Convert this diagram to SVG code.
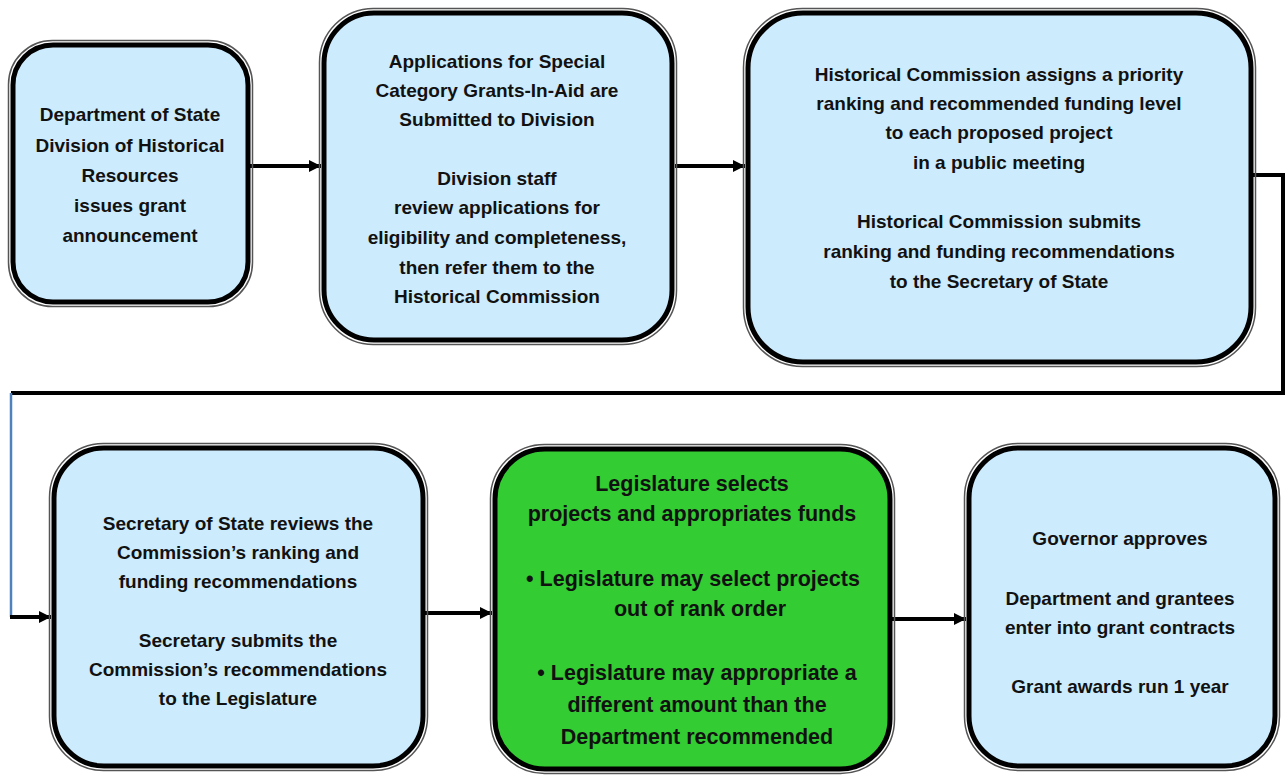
<svg xmlns="http://www.w3.org/2000/svg" width="1286" height="776" viewBox="0 0 1286 776">
<defs>
<style>
.box{fill:#CCEBFD;stroke:#000;stroke-width:5}
.green{fill:#33CC33;stroke:#000;stroke-width:5}
.halo{fill:none;stroke:#555;stroke-width:1.5}
.t{font-family:"Liberation Sans",Arial,sans-serif;font-weight:bold;font-size:19px;fill:#111;text-anchor:middle}
.tg{font-family:"Liberation Sans",Arial,sans-serif;font-weight:bold;font-size:21.5px;fill:#111;text-anchor:middle}
.conn{fill:none;stroke:#000;stroke-width:4}
</style>
<marker id="arr" viewBox="0 0 10 10" refX="10" refY="5" markerWidth="3" markerHeight="3" orient="auto" markerUnits="strokeWidth">
<path d="M0,0 L10,5 L0,10 z" fill="#000"/>
</marker>
</defs>
<rect width="1286" height="776" fill="#fff"/>

<g id="connectors">
<line class="conn" x1="250" y1="166" x2="321" y2="166" marker-end="url(#arr)"/>
<line class="conn" x1="675" y1="166" x2="745" y2="166" marker-end="url(#arr)"/>
<polyline class="conn" stroke-width="3" points="1253,175 1283,175 1283,393 11,393"/>
<line x1="11" y1="393" x2="11" y2="617" stroke="#4F81BD" stroke-width="2.5"/>
<line class="conn" stroke-width="3.5" x1="10" y1="617" x2="51" y2="617" marker-end="url(#arr)"/>
<line class="conn" x1="423" y1="613" x2="492" y2="613" marker-end="url(#arr)"/>
<line class="conn" x1="890" y1="619" x2="966" y2="619" marker-end="url(#arr)"/>
</g>

<g id="node1">
<rect class="halo" x="8.5" y="40.5" width="244" height="266" rx="44"/>
<rect class="box" x="13" y="45" width="235" height="257" rx="40"/>
<text class="t" x="130" y="121">Department of State</text>
<text class="t" x="130" y="152">Division of Historical</text>
<text class="t" x="130" y="182">Resources</text>
<text class="t" x="130" y="212">issues grant</text>
<text class="t" x="130" y="242">announcement</text>
</g>

<g id="node2">
<rect class="halo" x="319.5" y="8.5" width="357" height="336" rx="54"/>
<rect class="box" x="324" y="13" width="348" height="327" rx="50"/>
<text class="t" x="497" y="68">Applications for Special</text>
<text class="t" x="497" y="97">Category Grants-In-Aid are</text>
<text class="t" x="497" y="126">Submitted to Division</text>
<text class="t" x="497" y="185">Division staff</text>
<text class="t" x="497" y="214">review applications for</text>
<text class="t" x="497" y="244">eligibility and completeness,</text>
<text class="t" x="497" y="274">then refer them to the</text>
<text class="t" x="497" y="303">Historical Commission</text>
</g>

<g id="node3">
<rect class="halo" x="743.5" y="8.5" width="512" height="358" rx="59"/>
<rect class="box" x="748" y="13" width="503" height="349" rx="55"/>
<text class="t" x="999" y="81">Historical Commission assigns a priority</text>
<text class="t" x="999" y="110">ranking and recommended funding level</text>
<text class="t" x="999" y="139">to each proposed project</text>
<text class="t" x="999" y="169">in a public meeting</text>
<text class="t" x="999" y="228">Historical Commission submits</text>
<text class="t" x="999" y="258">ranking and funding recommendations</text>
<text class="t" x="999" y="288">to the Secretary of State</text>
</g>

<g id="node4">
<rect class="halo" x="49.5" y="443.5" width="378" height="327" rx="54"/>
<rect class="box" x="54" y="448" width="369" height="318" rx="50"/>
<text class="t" x="238" y="530">Secretary of State reviews the</text>
<text class="t" x="238" y="559">Commission’s ranking and</text>
<text class="t" x="238" y="588">funding recommendations</text>
<text class="t" x="238" y="647">Secretary submits the</text>
<text class="t" x="238" y="676">Commission’s recommendations</text>
<text class="t" x="238" y="705">to the Legislature</text>
</g>

<g id="node5">
<rect class="halo" x="490.5" y="444.5" width="404" height="329" rx="54"/>
<rect class="green" x="495" y="449" width="395" height="320" rx="50"/>
<text class="tg" x="692" y="491">Legislature selects</text>
<text class="tg" x="692" y="521">projects and appropriates funds</text>
<text class="tg" x="693" y="586">•  Legislature may select projects</text>
<text class="tg" x="700" y="616">out of rank order</text>
<text class="tg" x="697" y="680">•  Legislature may appropriate a</text>
<text class="tg" x="697" y="712">different amount than the</text>
<text class="tg" x="697" y="744">Department recommended</text>
</g>

<g id="node6">
<rect class="halo" x="964.5" y="443.5" width="315" height="327" rx="54"/>
<rect class="box" x="969" y="448" width="306" height="318" rx="50"/>
<text class="t" x="1120" y="545">Governor approves</text>
<text class="t" x="1120" y="605">Department and grantees</text>
<text class="t" x="1120" y="634">enter into grant contracts</text>
<text class="t" x="1120" y="693">Grant awards run 1 year</text>
</g>
</svg>
